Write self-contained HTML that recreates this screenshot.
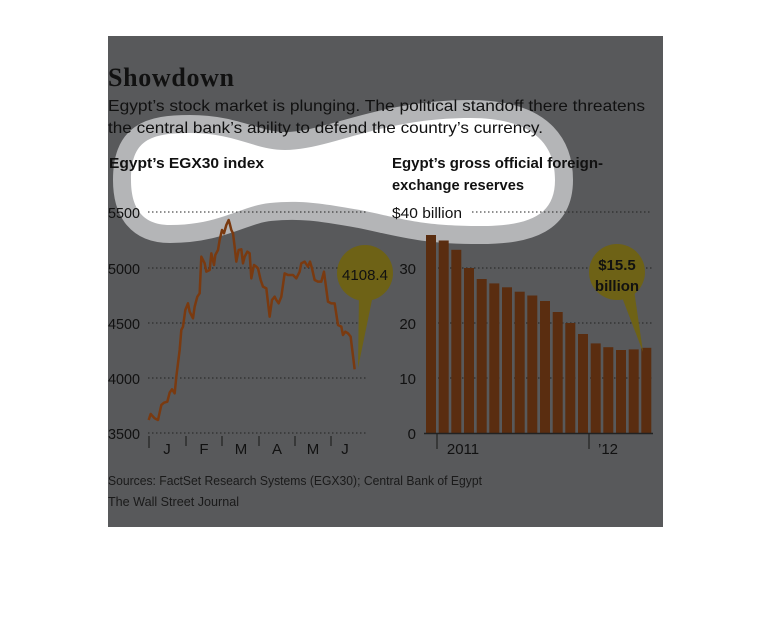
<!DOCTYPE html>
<html><head><meta charset="utf-8"><style>
body{margin:0;background:#fff;}
svg{display:block;}
text{font-family:"Liberation Sans","DejaVu Sans",sans-serif;}
</style></head><body>
<svg width="770" height="622" viewBox="0 0 770 622" xmlns="http://www.w3.org/2000/svg">
<defs>
<path id="cloud" d="M131,180 C131,140 150,133 190,133 C235,133 255,150 285,150 C330,150 380,118 470,118 C540,118 555,150 555,180 C555,215 530,226 480,226 C420,226 400,218 360,210 C320,203 300,200 270,203 C240,206 220,225 170,225 C140,225 131,205 131,180 Z"/>
<clipPath id="cl"><use href="#cloud"/></clipPath>
</defs>
<rect x="108" y="36" width="555" height="491" fill="#58595b"/>
<use href="#cloud" fill="#b4b5b7" stroke="#b4b5b7" stroke-width="36" stroke-linejoin="round"/>
<use href="#cloud" fill="#fff"/>
<text x="108" y="86" font-weight="bold" font-size="26" fill="#111" style="font-family:'Liberation Serif',serif" textLength="126">Showdown</text>
<text x="108" y="111" font-size="16" fill="#111" textLength="537" lengthAdjust="spacingAndGlyphs">Egypt’s stock market is plunging. The political standoff there threatens</text>
<text x="108" y="133" font-size="16" fill="#111" textLength="435" lengthAdjust="spacingAndGlyphs">the central bank’s ability to defend the country’s currency.</text>
<text x="109" y="168" font-size="14.5" font-weight="bold" fill="#111" textLength="155" lengthAdjust="spacingAndGlyphs">Egypt’s EGX30 index</text>
<text x="392" y="168" font-size="14.5" font-weight="bold" fill="#111" textLength="211" lengthAdjust="spacingAndGlyphs">Egypt’s gross official foreign-</text>
<text x="392" y="190" font-size="14.5" font-weight="bold" fill="#111" textLength="132" lengthAdjust="spacingAndGlyphs">exchange reserves</text>
<g font-size="15" fill="#111">
<text x="108" y="218" textLength="32" lengthAdjust="spacingAndGlyphs">5500</text>
<text x="108" y="274" textLength="32" lengthAdjust="spacingAndGlyphs">5000</text>
<text x="108" y="329" textLength="32" lengthAdjust="spacingAndGlyphs">4500</text>
<text x="108" y="384" textLength="32" lengthAdjust="spacingAndGlyphs">4000</text>
<text x="108" y="439" textLength="32" lengthAdjust="spacingAndGlyphs">3500</text>
<text x="392" y="218" font-size="15" textLength="70" lengthAdjust="spacingAndGlyphs">$40 billion</text>
<text x="416" y="274" text-anchor="end">30</text>
<text x="416" y="329" text-anchor="end">20</text>
<text x="416" y="384" text-anchor="end">10</text>
<text x="416" y="439" text-anchor="end">0</text>
</g>
<g stroke="#222" stroke-width="1" stroke-dasharray="1.5,2.5">
<line x1="148" y1="212" x2="368" y2="212"/><line x1="148" y1="268" x2="368" y2="268"/>
<line x1="148" y1="323" x2="368" y2="323"/><line x1="148" y1="378" x2="368" y2="378"/>
<line x1="148" y1="433" x2="368" y2="433"/>
<line x1="472" y1="212" x2="652" y2="212"/><line x1="426" y1="268" x2="652" y2="268"/>
<line x1="426" y1="323" x2="652" y2="323"/><line x1="426" y1="378" x2="652" y2="378"/>
</g>
<g stroke="#222" stroke-width="1.2">
<line x1="149" y1="436" x2="149" y2="448"/><line x1="186" y1="436" x2="186" y2="446"/>
<line x1="222" y1="436" x2="222" y2="446"/><line x1="259" y1="436" x2="259" y2="446"/>
<line x1="295" y1="436" x2="295" y2="446"/><line x1="331" y1="436" x2="331" y2="446"/>
<line x1="437" y1="433" x2="437" y2="449"/><line x1="589" y1="433" x2="589" y2="449"/>
</g>
<g font-size="15" fill="#111" text-anchor="middle">
<text x="167" y="454">J</text><text x="204" y="454">F</text><text x="241" y="454">M</text>
<text x="277" y="454">A</text><text x="313" y="454">M</text><text x="345" y="454">J</text>
<text x="463" y="454">2011</text><text x="608" y="454">’12</text>
</g>
<g fill="#5a2d10">
<rect x="426" y="235" width="10" height="198"/><rect x="438.7" y="240.5" width="10" height="192.5"/>
<rect x="451.3" y="249.8" width="10" height="183.2"/><rect x="464" y="268" width="10" height="165"/>
<rect x="476.7" y="279" width="10" height="154"/><rect x="489.3" y="283.4" width="10" height="149.6"/>
<rect x="502" y="287.3" width="10" height="145.7"/><rect x="514.7" y="291.7" width="10" height="141.3"/>
<rect x="527.3" y="295.5" width="10" height="137.5"/><rect x="540" y="301" width="10" height="132"/>
<rect x="552.7" y="312" width="10" height="121"/><rect x="565.3" y="323" width="10" height="110"/>
<rect x="578" y="334" width="10" height="99"/><rect x="590.7" y="343.4" width="10" height="89.6"/>
<rect x="603.3" y="347.2" width="10" height="85.8"/><rect x="616" y="350" width="10" height="83"/>
<rect x="628.7" y="349.4" width="10" height="83.6"/><rect x="641.3" y="347.8" width="10" height="85.2"/>
</g>
<line x1="424" y1="433.5" x2="653" y2="433.5" stroke="#222" stroke-width="1.5"/>
<g fill="#6e6216">
<circle cx="365" cy="273" r="28"/><path d="M359,295 L373,295 L358,368 Z"/>
<circle cx="617" cy="272" r="28"/><path d="M620,292 L634,290 L643,352 Z"/>
</g>
<text x="365" y="280" font-size="15" text-anchor="middle" fill="#111">4108.4</text>
<text x="617" y="270" font-size="15" font-weight="bold" text-anchor="middle" fill="#111">$15.5</text>
<text x="617" y="291" font-size="15" font-weight="bold" text-anchor="middle" fill="#111">billion</text>
<g transform="translate(108,200) scale(0.3333)">
<polyline id="ln" fill="none" stroke="#7a3a10" stroke-width="7.5" stroke-linejoin="round" points="122,660 128,642 140,655 150,660 160,615 168,608 178,605 185,578 192,568 200,580 205,530 210,490 215,450 220,390 225,380 232,330 240,310 245,335 255,355 260,320 268,290 275,280 280,170 290,190 295,215 305,210 310,160 318,195 322,165 330,150 335,120 342,90 348,100 355,75 362,60 365,70 370,90 375,100 380,140 385,185 392,150 400,148 405,190 410,170 418,155 425,160 430,235 438,195 445,200 450,205 458,240 465,260 475,265 485,350 492,300 500,290 505,300 512,310 520,290 530,220 540,225 555,225 565,235 575,215 580,190 590,185 600,200 606,185 612,205 620,240 630,245 640,245 648,215 660,305 670,310 680,310 690,375 700,380 705,405 712,395 720,400 728,410 740,508"/>
</g>
<g clip-path="url(#cl)">
<g transform="translate(108,200) scale(0.3333)">
<use href="#ln" stroke="#e08a30"/>
</g>
</g>
<text x="108" y="485" font-size="13" fill="#1a1a1a" textLength="374" lengthAdjust="spacingAndGlyphs">Sources: FactSet Research Systems (EGX30); Central Bank of Egypt</text>
<text x="108" y="506" font-size="13" fill="#1a1a1a" textLength="131" lengthAdjust="spacingAndGlyphs">The Wall Street Journal</text>
</svg>
</body></html>
